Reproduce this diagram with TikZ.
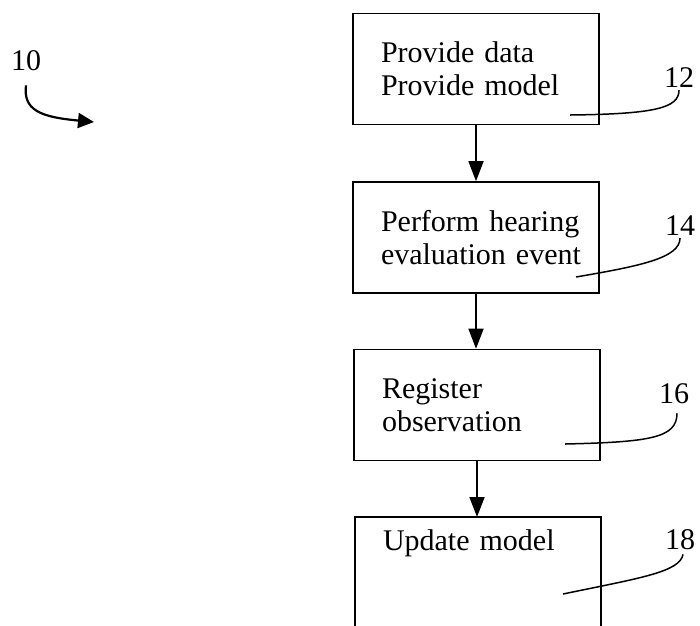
\documentclass[tikz,border=0pt]{standalone}
\usepackage{fontspec}
\setmainfont{Liberation Serif}
\usetikzlibrary{arrows.meta}
\begin{document}
\begin{tikzpicture}[x=1pt,y=1pt,
  box/.style={draw, line width=1.6pt, minimum width=246pt, minimum height=111pt,
    text width=190pt, align=left, inner sep=0pt, font=\fontsize{30}{33}\selectfont},
  openbox/.style={minimum width=246pt, text width=190pt, align=left,
    inner xsep=0pt, inner ysep=12.5pt, font=\fontsize{30}{33}\selectfont},
  flow/.style={line width=1.6pt, -{Triangle[length=20pt,width=15pt]}},
  lbl/.style={font=\fontsize{30}{32}\selectfont, inner sep=1pt},
  leader/.style={line width=1.5pt}]
\useasboundingbox (0,0) rectangle (700,-625);
% boxes
\node[box] (b1) at (476,-69) {\mbox{Provide data}\\\mbox{Provide model}};
\node[box] (b2) at (476,-237.5) {\mbox{Perform hearing}\\\mbox{evaluation event}};
\node[box] (b3) at (477,-405) {\mbox{Register}\\\mbox{observation}};
\node[openbox, anchor=north] (b4) at (478,-517) {\mbox{Update model}};
\coordinate (bot) at (0,-632);
\draw[line width=1.6pt] (b4.north west |- bot) -- (b4.north west) -- (b4.north east) -- (b4.north east |- bot);
% flow arrows
\draw[flow] (b1.south) -- (b1.south |- b2.north);
\draw[flow] (b2.south) -- (b2.south |- b3.north);
\draw[flow] (b3.south) -- (b3.south |- b4.north);
% reference numeral 10
\node[lbl] (n10) at (26,-61) {10};
\coordinate (t10) at (94,-122);
\draw[line width=2.2pt, -{Triangle[length=16pt,width=15pt]}]
  ([yshift=-13pt]n10.south) .. controls (23,-110) and (40,-117) .. (t10);
% labels and leaders
\node[lbl] (n12) at (679,-78) {12};
\coordinate (e12) at (570,-115);
\draw[leader] ([yshift=-1pt]n12.south) .. controls (679,-108) and (655,-114) .. (e12);
\node[lbl] (n14) at (680,-226) {14};
\coordinate (e14) at (576,-277);
\draw[leader] ([yshift=-1pt]n14.south) .. controls (680,-258) and (640,-266) .. (e14);
\node[lbl] (n16) at (674,-394) {16};
\coordinate (e16) at (565,-444);
\draw[leader] ([xshift=3pt,yshift=-8pt]n16.south) .. controls (677,-438) and (650,-442) .. (e16);
\node[lbl] (n18) at (680,-540) {18};
\coordinate (e18) at (563,-594);
\draw[leader] ([xshift=3pt,yshift=-3pt]n18.south) .. controls (680,-572) and (640,-578) .. (e18);
\end{tikzpicture}
\end{document}
